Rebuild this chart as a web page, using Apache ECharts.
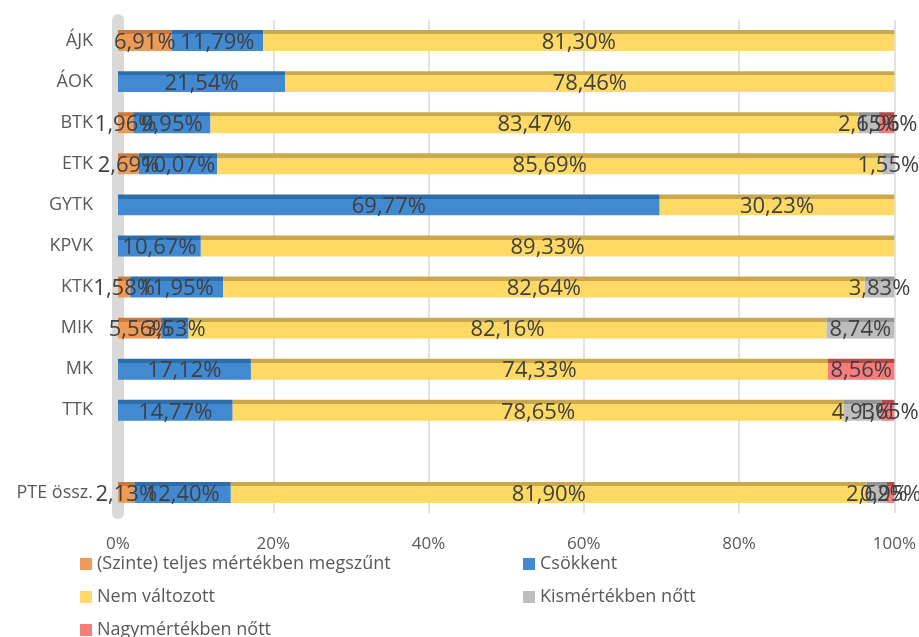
<!DOCTYPE html>
<html><head><meta charset="utf-8">
<script src="https://cdn.jsdelivr.net/npm/echarts@6/dist/echarts.min.js"></script>
<style>html,body{margin:0;padding:0;background:#fff}#c{width:919px;height:637px}</style>
</head><body><div id="c"></div>
<script>
const categories = ['ÁJK','ÁOK','BTK','ETK','GYTK','KPVK','KTK','MIK','MK','TTK','','PTE össz.'];
const seriesNames = ['(Szinte) teljes mértékben megszűnt','Csökkent','Nem változott','Kismértékben nőtt','Nagymértékben nőtt'];
const megszunt   = [6.91, 0, 1.96, 2.69, 0, 0, 1.58, 5.56, 0, 0, null, 2.13];
const csokkent   = [11.79, 21.54, 9.95, 10.07, 69.77, 10.67, 11.95, 3.53, 17.12, 14.77, null, 12.40];
const nemValt    = [81.30, 78.46, 83.47, 85.69, 30.23, 89.33, 82.64, 82.16, 74.33, 78.65, null, 81.90];
const kisNott    = [0, 0, 2.65, 1.55, 0, 0, 3.83, 8.74, 0, 4.93, null, 2.62];
const nagyNott   = [0, 0, 1.96, 0, 0, 0, 0, 0, 8.56, 1.65, null, 0.95];
const tickLabels = ['0%','20%','40%','60%','80%','100%'];

const colors = ['#EE9B58','#4189D1','#FFD966','#BDBDBD','#F77C7C'];
const darkColors = ['#C97A3C','#2F6DA8','#C9A84E','#969696','#B84A4A'];
const values = [megszunt, csokkent, nemValt, kisNott, nagyNott];
const FONT = 'Open Sans';

function grad(i){
  return new echarts.graphic.LinearGradient(0,0,0,1,[
    {offset:0,color:darkColors[i]},{offset:0.2,color:darkColors[i]},
    {offset:0.2,color:colors[i]},{offset:1,color:colors[i]}]);
}

const series = seriesNames.map((n,i)=>({
  name:n, type:'bar', stack:'all', barWidth:'51%',
  data: values[i],
  itemStyle:{color:grad(i)},
  label:{show:true, position:'inside', color:'#404040', fontSize:22, fontFamily:FONT,
    offset:[0,2],
    formatter:p=> (p.value && p.value>0) ? p.value.toFixed(2).replace('.',',')+'%' : ''}
}));

const legendText = {color:'#595959',fontSize:18,fontFamily:FONT};
const legItem = i => ({name:seriesNames[i], itemStyle:{color:colors[i]}});
const chart = echarts.init(document.getElementById('c'));
chart.setOption({
  animation:false,
  color:colors,
  textStyle:{fontFamily:FONT},
  grid:{left:118,right:22,top:20,bottom:124,containLabel:false},
  xAxis:{type:'value',min:0,max:100,interval:20,
    axisLabel:{color:'#595959',fontSize:17,fontFamily:FONT,margin:23,
      formatter:v=>tickLabels[Math.round(v/20)]},
    splitLine:{lineStyle:{color:'#D9D9D9',width:1.5}},
    axisLine:{show:false},axisTick:{show:false}},
  yAxis:{type:'category',data:categories,inverse:true,
    axisLabel:{color:'#595959',fontSize:18,fontFamily:FONT,margin:25},
    axisLine:{show:true,lineStyle:{color:'#D9D9D9',width:12}},
    axisTick:{show:false}},
  legend:[
    {data:[legItem(0),legItem(2),legItem(4)],orient:'vertical',left:75,top:550,height:200,
      itemWidth:12,itemHeight:12,itemGap:15,icon:'rect',textStyle:legendText},
    {data:[legItem(1),legItem(3)],orient:'vertical',left:518,top:550,height:200,
      itemWidth:12,itemHeight:12,itemGap:15,icon:'rect',textStyle:legendText}
  ],
  series:series
});
</script></body></html>
